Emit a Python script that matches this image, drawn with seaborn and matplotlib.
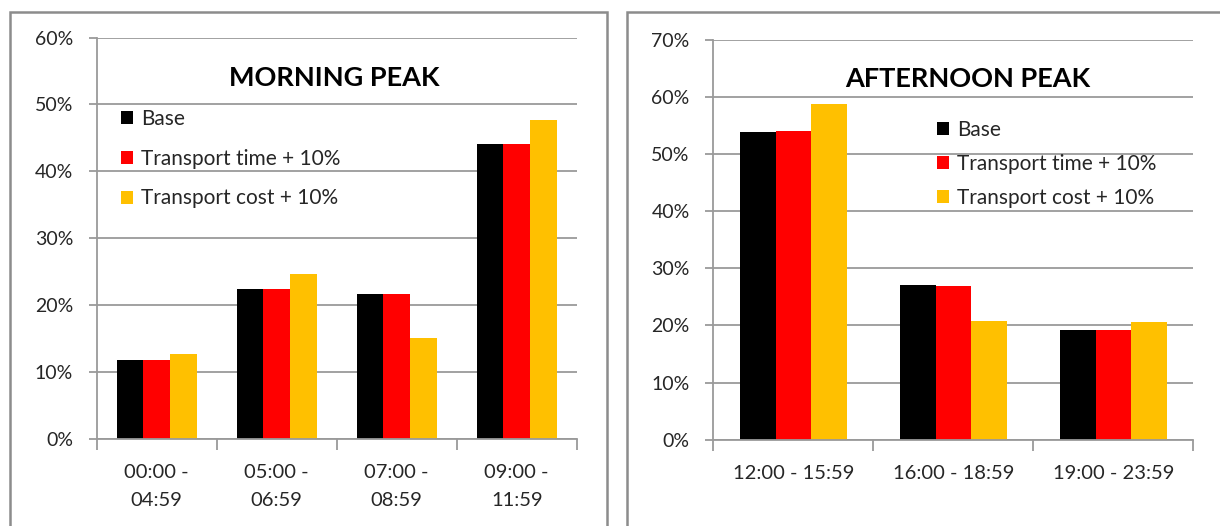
import matplotlib
matplotlib.use("Agg")
import matplotlib.pyplot as plt
from matplotlib.patches import Rectangle
from matplotlib.ticker import FixedLocator, PercentFormatter
import pandas as pd
import seaborn as sns

# Share of trips by departure window under three scenarios
scenarios = ["Base", "Transport time + 10%", "Transport cost + 10%"]
colors = ["#000000", "#FF0000", "#FFC000"]

morning_windows = ["00:00 -\n04:59", "05:00 -\n06:59", "07:00 -\n08:59", "09:00 -\n11:59"]
morning_base = [11.7, 22.4, 21.6, 44.0]
morning_time = [11.7, 22.4, 21.6, 44.0]
morning_cost = [12.6, 24.6, 15.0, 47.6]

afternoon_windows = ["12:00 - 15:59", "16:00 - 18:59", "19:00 - 23:59"]
afternoon_base = [53.9, 27.1, 19.2]
afternoon_time = [54.1, 26.9, 19.2]
afternoon_cost = [58.8, 20.8, 20.6]


def long_form(windows, base, time, cost):
    rows = []
    for series, vals in zip(scenarios, [base, time, cost]):
        for w, v in zip(windows, vals):
            rows.append({"window": w, "scenario": series, "share": v})
    return pd.DataFrame(rows)


sns.set_theme(style="white")
plt.rcParams["font.family"] = ["Lato", "DejaVu Sans"]

fig = plt.figure(figsize=(12.2, 5.26), dpi=100)

GRID = "#9a9a9a"
TEXT = "#262626"

# chart frames
fig.add_artist(Rectangle((10 / 1220, -0.05), 597 / 1220, 1.05 - 12 / 526,
                         transform=fig.transFigure, fill=False,
                         edgecolor="#8c8c8c", linewidth=1.8, clip_on=False))
fig.add_artist(Rectangle((627 / 1220, -0.05), 0.6, 1.05 - 12 / 526,
                         transform=fig.transFigure, fill=False,
                         edgecolor="#8c8c8c", linewidth=1.8, clip_on=False))

ax1 = fig.add_axes([0.0793, 0.166, 0.3934, 0.7627])
ax2 = fig.add_axes([0.5847, 0.1641, 0.3934, 0.7604])


def draw(ax, windows, base, time, cost, ymax, title, title_xy,
         legend_xy, legend_spacing):
    df = long_form(windows, base, time, cost)
    sns.barplot(data=df, x="window", y="share", hue="scenario",
                palette=colors, hue_order=scenarios, order=windows,
                width=2 / 3, gap=0, linewidth=0, saturation=1, ax=ax)
    n = len(windows)
    ax.set_xlim(-0.5, n - 0.5)
    ax.set_ylim(0, ymax)
    ax.yaxis.set_major_locator(FixedLocator(range(0, ymax + 1, 10)))
    ax.yaxis.set_major_formatter(PercentFormatter(decimals=0))
    ax.grid(axis="y", color=GRID, linewidth=1.3)
    ax.set_axisbelow(True)
    for side in ["top", "right"]:
        ax.spines[side].set_visible(False)
    for side in ["left", "bottom"]:
        ax.spines[side].set_color(GRID)
        ax.spines[side].set_linewidth(1.3)
    ax.set_xlabel("")
    ax.set_ylabel("")
    ax.tick_params(axis="y", which="major", left=True, length=6, width=1.3,
                   color=GRID, labelsize=14, labelcolor=TEXT, pad=11)
    ax.tick_params(axis="x", which="major", bottom=False, length=0,
                   labelsize=14.5, labelcolor=TEXT, pad=18)
    for t in ax.get_xticklabels():
        t.set_linespacing(1.8)
    ax.xaxis.set_minor_locator(FixedLocator([i - 0.5 for i in range(n + 1)]))
    ax.tick_params(axis="x", which="minor", bottom=True, length=8, width=1.3,
                   color=GRID)
    handles, labels = ax.get_legend_handles_labels()
    ax.legend(handles, labels, loc="upper left", bbox_to_anchor=legend_xy,
              frameon=False, fontsize=15, handlelength=0.58, handleheight=0.58,
              handletextpad=0.37, labelspacing=legend_spacing, borderpad=0,
              borderaxespad=0, labelcolor=TEXT)
    ax.text(title_xy[0], title_xy[1], title, transform=ax.transAxes,
            ha="center", va="center", fontsize=19.5, fontweight="bold",
            color="#000000")


draw(ax1, morning_windows, morning_base, morning_time, morning_cost, 60,
     "MORNING PEAK", (0.494, 0.900), (0.0506, 0.822), 0.95)
draw(ax2, afternoon_windows, afternoon_base, afternoon_time, afternoon_cost, 70,
     "AFTERNOON PEAK", (0.529, 0.902), (0.466, 0.80), 0.68)

fig.savefig("out.png", dpi=100)
